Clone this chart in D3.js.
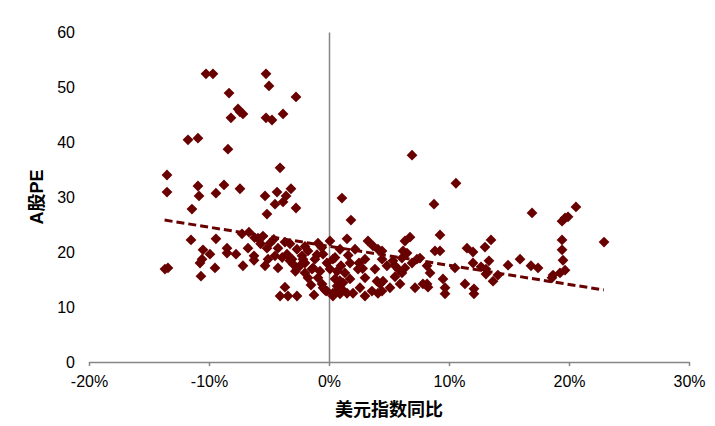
<!DOCTYPE html>
<html><head><meta charset="utf-8">
<script src="https://cdn.jsdelivr.net/npm/d3@7"></script>
<style>
html,body{margin:0;padding:0;background:#fff;}
svg{display:block;}
text{font-family:"Liberation Sans",Arial,"Noto Sans CJK SC",sans-serif;}
</style></head>
<body>
<script>
// 美元指数同比 (%)
const usdYoY = [
-10.25,-9.67,-5.25,-5.0,-8.33,-2.75,-7.58,-7.42,-7.17,-8.17,-5.25,-4.75,-3.83,-11.75,-10.92,-8.42,-4.08,-13.5,-13.5,-10.92,
-10.83,-9.42,-8.75,-7.42,-5.33,-4.33,-3.17,-3.58,-4.5,-3.83,-2.75,-11.42,-5.17,1.08,1.83,6.92,10.58,8.75,
-13.67,-13.42,-11.5,-9.42,-10.5,-10.58,-10.75,-9.92,-9.5,-10.67,-8.5,-8.5,-7.75,-7.17,-6.75,-6.25,-6.25,-5.33,
-7.25,-6.67,-5.92,-5.5,-5.17,
-4.92,-4.25,-3.67,-3.25,-2.67,-4.5,-5.08,-4.25,-3.08,-2.25,-1.75,-0.92,0.08,0.92,1.5,2.17,3.25,4.08,4.42,3.0,
1.75,1.33,2.42,3.0,3.83,4.0,2.58,2.0,1.5,0.92,0.33,-0.17,-0.58,-0.92,-1.42,-2.0,-1.75,0.08,0.67,0.33,-0.17,
-3.67,-4.08,-3.42,-2.67,-1.25,0.33,0.67,4.5,4.42,3.58,3.0,
-3.5,-3.0,-2.17,-1.33,-0.5,-0.5,
6.75,6.33,6.17,6.5,3.67,9.25,8.83,9.25,10.5,8.17,8.42,9.5,9.67,9.67,8.17,7.17,5.92,5.08,4.25,4.08,
4.83,5.33,6.08,6.33,7.33,7.58,6.92,5.5,6.08,7.83,8.25,4.42,
11.5,12.0,13.0,13.5,12.0,12.67,13.33,13.08,13.08,13.67,14.08,14.92,15.92,16.83,17.42,11.33,12.08,12.08,
16.92,19.42,19.67,19.92,20.58,22.92,19.42,19.42,19.5,19.67,19.25,18.67,18.58,
-3.25,-2.42,-0.75,0.5,1.17,1.75,-1.17,-2.0,
-0.3,0.6,1.1,-2.0,-1.0,0.5,1.0,2.5,-4.6,-5.7,-6.2,-3.9,-2.8,-1.5,0.9,2.8,5.5,5.8,-0.6,1.6
];
// A股PE
const aSharePE = [
52.4,52.4,52.4,50.2,48.9,48.2,46.0,45.5,45.1,44.4,44.4,44.0,45.1,40.4,40.7,38.7,35.3,34.0,30.9,32.0,
30.2,30.7,32.2,31.5,30.2,30.9,31.5,30.2,28.7,29.1,28.0,27.8,26.9,29.8,25.8,37.6,32.5,28.7,
16.9,17.1,22.2,22.4,20.4,18.7,18.0,19.6,17.1,15.6,20.7,19.8,19.6,17.5,20.7,19.3,18.5,17.5,
23.3,23.6,22.5,22.9,20.7,
21.6,20.7,21.8,21.5,20.5,19.3,18.7,17.1,18.7,19.3,20.2,21.6,22.0,20.5,22.4,20.5,22.0,20.5,18.7,18.7,
18.0,16.2,16.9,15.3,16.9,14.7,13.5,12.5,12.5,12.4,12.5,12.9,14.2,15.3,16.9,16.2,15.3,16.9,16.5,18.7,18.0,
13.6,12.0,12.0,12.0,12.2,12.0,13.8,14.7,12.9,12.9,12.0,
19.6,17.8,18.7,17.1,19.6,13.5,
22.7,22.0,20.2,19.8,21.1,23.1,20.2,20.2,17.1,17.5,16.2,15.1,13.5,12.4,14.2,13.5,14.2,13.5,14.2,12.5,
17.5,18.4,18.9,17.1,18.7,18.9,18.0,17.5,16.2,14.2,13.6,20.2,
20.7,20.0,20.9,22.2,18.0,17.3,18.4,16.9,16.0,14.7,15.8,17.6,18.7,17.5,17.1,14.2,13.3,12.4,
27.1,25.6,26.2,26.4,28.2,21.8,22.2,20.4,18.5,16.7,16.2,15.8,15.3,
18.4,17.5,16.5,15.1,14.4,15.1,18.7,18.0,
13.0,12.8,13.2,21.0,19.5,19.0,17.5,18.0,22.3,21.5,22.6,19.0,16.5,14.0,14.8,17.0,15.5,16.8,20.8,19.4
];
// linear trend line (endpoints)
const trendX = [-13.7, 22.9];
const trendY = [25.8, 13.1];
const xTicks = [-20, -10, 0, 10, 20, 30];
const yTicks = [0, 10, 20, 30, 40, 50, 60];
const xTitle = "美元指数同比";
const yTitle = "A股PE";

const W = 715, H = 426;
const color = "#680000";
const axisColor = "#868686";

const svg = d3.select("body").append("svg").attr("width", W).attr("height", H);
const x = d3.scaleLinear().domain([-20, 30]).range([89, 689]);
const y = d3.scaleLinear().domain([0, 60]).range([362, 32]);

// x axis (bottom)
const xAxis = d3.axisBottom(x).tickValues(xTicks).tickSize(4).tickSizeOuter(0).tickPadding(10)
  .tickFormat(d => d + "%");
const gx = svg.append("g").attr("transform", `translate(0,${y(0)})`).call(xAxis);
gx.select(".domain").attr("stroke", axisColor).attr("stroke-width", 1.5);
gx.selectAll(".tick line").attr("stroke", axisColor).attr("stroke-width", 1.5);
gx.selectAll(".tick text").attr("font-size", 16).attr("fill", "#000")
  .attr("font-family", "Liberation Sans, Arial, sans-serif");

// y axis line at x = 0
const yAxis = d3.axisLeft(y).tickValues(yTicks).tickSize(0).tickSizeOuter(0).tickFormat(d3.format("d"));
const gy = svg.append("g").attr("transform", `translate(${x(0)},0)`).call(yAxis);
gy.select(".domain").attr("stroke", axisColor).attr("stroke-width", 1.5);
gy.selectAll(".tick text").remove();

// y tick labels on the left
svg.append("g").selectAll("text").data(yTicks).join("text")
  .attr("x", 75).attr("y", d => y(d)).attr("dy", "0.35em")
  .attr("text-anchor", "end").attr("font-size", 16).attr("fill", "#000")
  .text(d => d);

// points
const pts = usdYoY.map((v, i) => ({ x: v, y: aSharePE[i] }));
const diamond = d3.symbol().type(d3.symbolSquare).size(58);
svg.append("g").selectAll("path").data(pts).join("path")
  .attr("d", diamond)
  .attr("transform", d => `translate(${x(d.x)},${y(d.y)}) rotate(45)`)
  .attr("fill", color);

// trend line
const line = d3.line().x(d => x(d[0])).y(d => y(d[1]));
svg.append("path").datum(trendX.map((v, i) => [v, trendY[i]]))
  .attr("d", line).attr("fill", "none").attr("stroke", color)
  .attr("stroke-width", 3).attr("stroke-dasharray", "8,4");

// titles
svg.append("text").attr("x", (x(-20) + x(30)) / 2).attr("y", 416)
  .attr("text-anchor", "middle").attr("font-size", 18).attr("font-weight", "bold")
  .attr("font-family", "Liberation Sans, Noto Sans CJK SC, sans-serif")
  .text(xTitle);
svg.append("text").attr("transform", `translate(43,${(y(0) + y(60)) / 2}) rotate(-90)`)
  .attr("text-anchor", "middle").attr("font-size", 18).attr("font-weight", "bold")
  .attr("font-family", "Liberation Sans, Noto Sans CJK SC, sans-serif")
  .text(yTitle);
</script>
</body></html>
